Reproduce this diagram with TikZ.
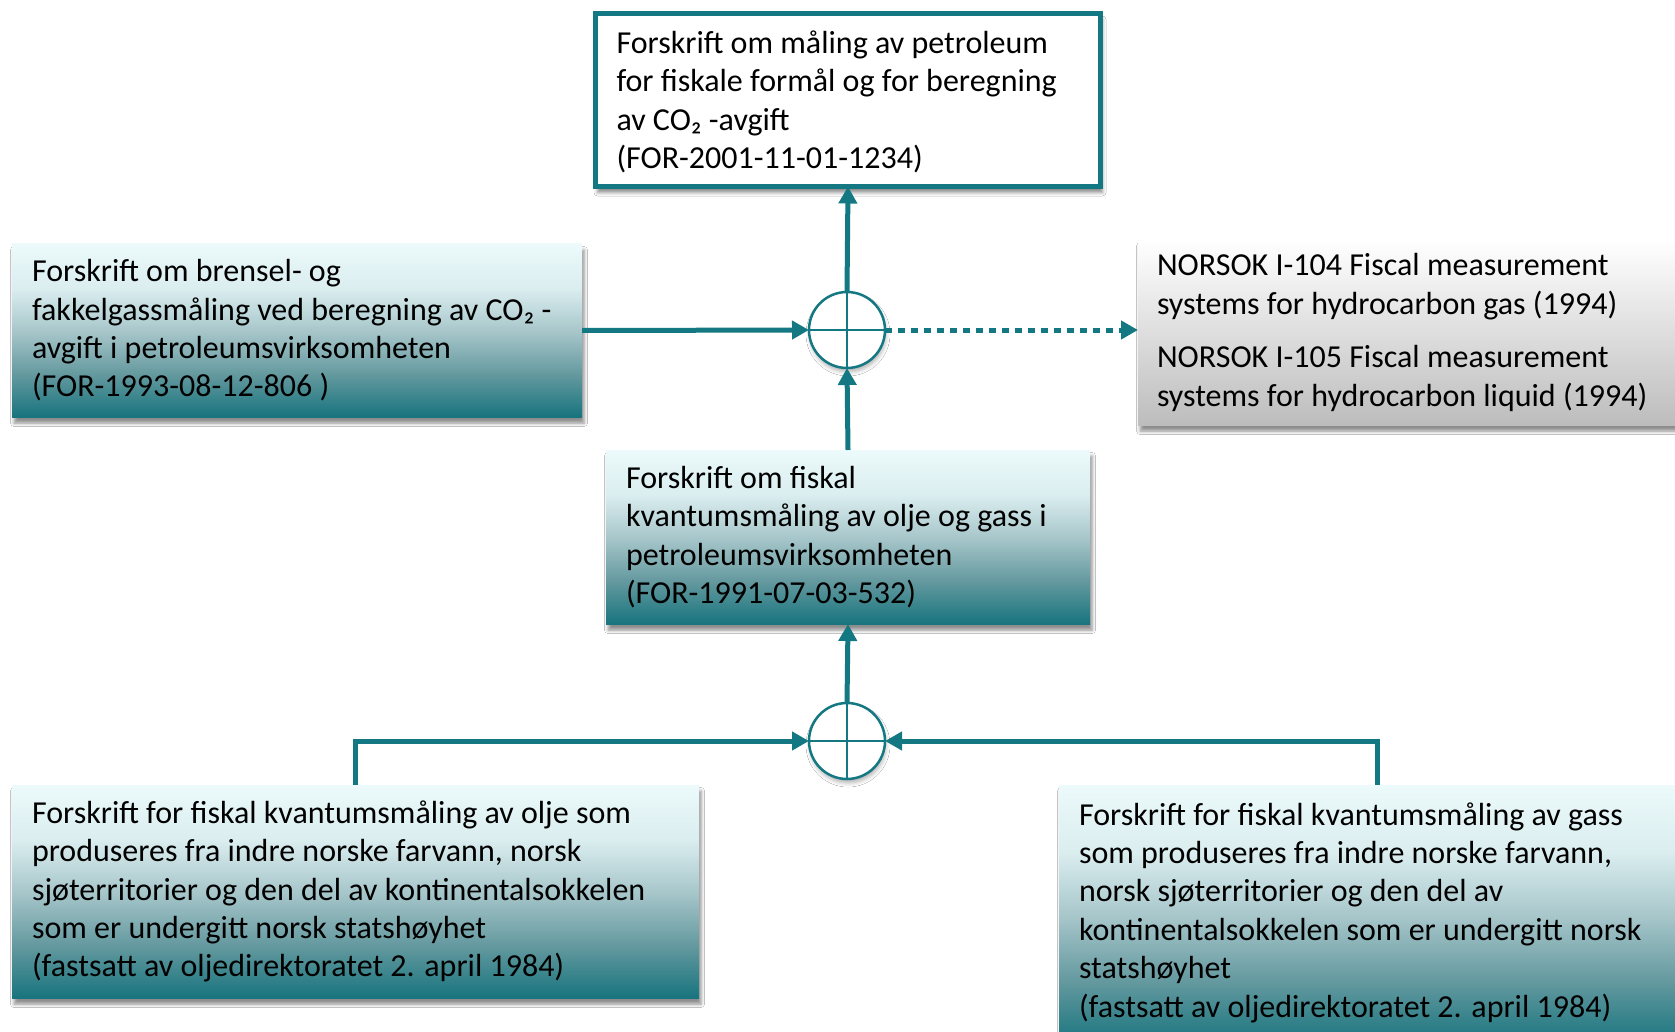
\documentclass[tikz,border=0pt]{standalone}
\usepackage{fontspec}
\setmainfont{Carlito}
\usetikzlibrary{arrows.meta,shadows,shadows.blur,calc}
\definecolor{teal1}{RGB}{19,120,130}
\definecolor{gT}{RGB}{236,250,251}
\definecolor{gL}{RGB}{218,237,239}
\definecolor{gM}{RGB}{168,199,203}
\definecolor{gD}{RGB}{98,152,158}
\definecolor{gB}{RGB}{24,116,126}
\pgfdeclareverticalshading{tealgrad}{100bp}{color(0bp)=(gB); color(25bp)=(gB); color(37bp)=(gD); color(50bp)=(gM); color(62bp)=(gL); color(75bp)=(gT); color(100bp)=(gT)}
\begin{document}
\begin{tikzpicture}[x=1pt,y=-1pt,
  every node/.style={font=\fontsize{32}{38.4}\selectfont, inner sep=0pt, outer sep=0pt},
  softshadow/.style={blur shadow={shadow xshift=2pt, shadow yshift=-6pt, shadow blur radius=3.5pt, shadow opacity=45}},
  shbox/.style={rectangle, shading=tealgrad, draw=none, softshadow},
  graybox/.style={rectangle, top color=white, bottom color=black!26, draw=none, softshadow},
  whitebox/.style={rectangle, fill=white, draw=teal1, line width=5pt, softshadow},
  txt/.style={anchor=west, align=left, text=black},
  junction/.style={circle, minimum size=76pt, draw=teal1, line width=2.5pt, fill=white,
     blur shadow={shadow xshift=1pt, shadow yshift=-4pt, shadow blur radius=4pt, shadow opacity=30},
     path picture={\draw[teal1, line width=2.5pt]
        (path picture bounding box.north) -- (path picture bounding box.south)
        (path picture bounding box.west) -- (path picture bounding box.east);}},
  conn/.style={draw=teal1, line width=5pt, -{Triangle[length=17pt,width=18pt]}},
  dotconn/.style={draw=teal1, line width=5pt, dash pattern=on 7pt off 6pt, -{Triangle[length=17pt,width=18pt]}}
]
\useasboundingbox (0,0) rectangle (1675,1032);
\fill[white] (0,0) rectangle (1675,1032);

% boxes
\node[whitebox, minimum width=505pt, minimum height=173pt] (top) at (848,100) {};
\node[txt] (toptxt) at ([xshift=21pt,yshift=-2pt]top.west) {Forskrift om måling av petroleum\\for fiskale formål og for beregning\\av CO₂ -avgift\\(FOR-2001-11-01-1234)};

\node[shbox, minimum width=570pt, minimum height=173pt] (left) at (297,330.5) {};
\node[txt] (lefttxt) at ([xshift=20pt]left.west) {Forskrift om brensel- og\\fakkelgassmåling ved beregning av CO₂ -\\avgift i petroleumsvirksomheten\\(FOR-1993-08-12-806 )};

\node[graybox, minimum width=562pt, minimum height=185pt] (gray) at (1419,332.5) {};
\node[txt] (graytxt) at ([xshift=19pt]gray.west) {NORSOK I-104 Fiscal measurement\\systems for hydrocarbon gas (1994)\\[15pt]NORSOK I-105 Fiscal measurement\\systems for hydrocarbon liquid (1994)};

\node[shbox, minimum width=484pt, minimum height=174pt] (mid) at (848,537) {};
\node[txt] (midtxt) at ([xshift=20pt]mid.west) {Forskrift om fiskal\\kvantumsmåling av olje og gass i\\petroleumsvirksomheten\\(FOR-1991-07-03-532)};

\node[shbox, minimum width=687pt, minimum height=213pt] (bl) at (355.5,891.5) {};
\node[txt] (bltxt) at ([xshift=20pt]bl.west) {Forskrift for fiskal kvantumsmåling av olje som\\produseres fra indre norske farvann, norsk\\sjøterritorier og den del av kontinentalsokkelen\\som er undergitt norsk statshøyhet\\(fastsatt av oljedirektoratet 2. april 1984)};

\node[shbox, minimum width=636pt, minimum height=260pt] (br) at (1377,915) {};
\node[txt] (brtxt) at ([xshift=20pt,yshift=2.5pt]br.west) {Forskrift for fiskal kvantumsmåling av gass\\som produseres fra indre norske farvann,\\norsk sjøterritorier og den del av\\kontinentalsokkelen som er undergitt norsk\\statshøyhet\\(fastsatt av oljedirektoratet 2. april 1984)};

% junctions
\node[junction] (j1) at (847,330) {};
\node[junction] (j2) at (847,741) {};

% connectors
\draw[conn] (j1.north) -- (top.south);
\draw[conn] (mid.north) -- (j1.south);
\draw[conn] (left.east) -- (j1.west);
\draw[dotconn] (j1.east) -- (j1.east -| gray.west);
\draw[conn] (j2.north) -- (mid.south);
\draw[conn] (bl.north) |- (j2.west);
\draw[conn] (br.north) |- (j2.east);
\end{tikzpicture}
\end{document}
